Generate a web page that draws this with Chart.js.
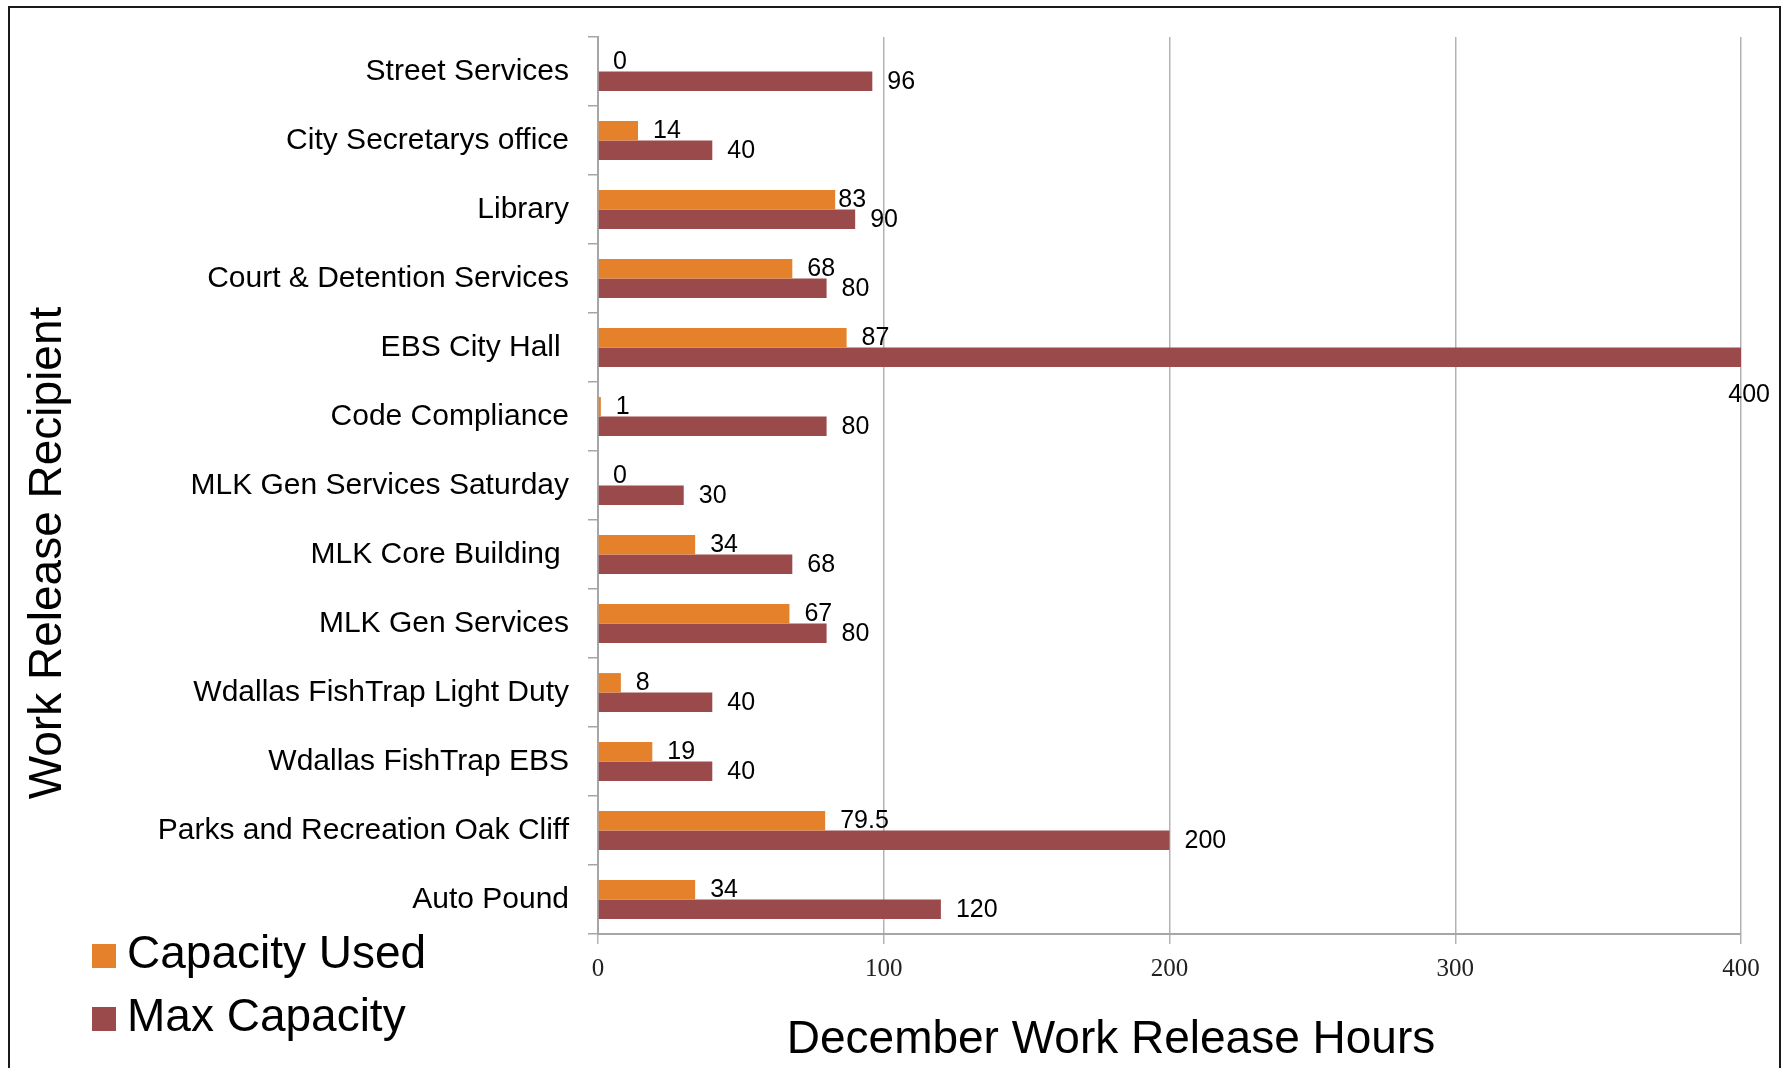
<!DOCTYPE html>
<html>
<head>
<meta charset="utf-8">
<title>December Work Release Hours</title>
<script src="https://cdn.jsdelivr.net/npm/chart.js@4/dist/chart.umd.min.js"></script>
<style>
  html, body { margin: 0; padding: 0; background: #fff; overflow: hidden; }
  #wrap { position: relative; width: 1782px; height: 1068px; }
  #frame {
    position: absolute; left: 8px; top: 6px; width: 1769px; height: 1100px;
    border: 2px solid #1a1a1a; border-bottom: none; pointer-events: none;
  }
</style>
</head>
<body>
<div id="wrap">
  <canvas id="hours_graph" width="1782" height="1068"></canvas>
  <div id="frame"></div>
</div>
<script>
// recipients, top to bottom
let recipients=[
  'Street Services',
  'City Secretarys office',
  'Library',
  'Court & Detention Services',
  'EBS City Hall ',
  'Code Compliance',
  'MLK Gen Services Saturday',
  'MLK Core Building ',
  'MLK Gen Services',
  'Wdallas FishTrap Light Duty',
  'Wdallas FishTrap EBS',
  'Parks and Recreation Oak Cliff',
  'Auto Pound'
];
let capacity_used=[0,14,83,68,87,1,0,34,67,8,19,79.5,34];
let max_capacity=[96,40,90,80,400,80,30,68,80,40,40,200,120];
let hour_ticks=[0,100,200,300,400];

const SANS='"Liberation Sans", Arial, sans-serif';
const SERIF='"Liberation Serif", "Times New Roman", serif';

// numbers at the end of each bar; the used-capacity number backs off
// to the left when it would run into the max-capacity number below it
const barValues={
  id:'barValues',
  afterDatasetsDraw(chart){
    const ctx=chart.ctx;
    ctx.save();
    ctx.font='25px '+SANS;
    ctx.fillStyle='#000';
    ctx.textAlign='left';
    ctx.textBaseline='middle';
    const used=chart.getDatasetMeta(0).data;
    const max=chart.getDatasetMeta(1).data;
    max.forEach((bar,i)=>{
      const txt=String(max_capacity[i]);
      const w=ctx.measureText(txt).width;
      let x=bar.x+15, y=bar.y+1;
      if(x+w>chart.width-12){
        x=chart.width-12-w;
        y=bar.y+38;
      }
      bar.$labelX=x; bar.$labelY=y;
      ctx.fillText(txt,x,y);
    });
    used.forEach((bar,i)=>{
      const txt=String(capacity_used[i]);
      const w=ctx.measureText(txt).width;
      let x=bar.x+15, y=bar.y;
      const below=max[i];
      if(Math.abs(below.$labelY-y)<24 && x+w>below.$labelX-4){
        x=below.$labelX-4-w;
      }
      ctx.fillText(txt,x,y);
    });
    ctx.restore();
  }
};

// axis titles and the legend down the left side
const sideText={
  id:'sideText',
  afterDraw(chart){
    const ctx=chart.ctx;
    ctx.save();
    ctx.fillStyle='#000';
    ctx.font='46px '+SANS;
    ctx.textAlign='center';
    ctx.textBaseline='middle';
    ctx.fillText('December Work Release Hours',1111,1040);

    ctx.translate(48,553);
    ctx.rotate(-Math.PI/2);
    ctx.fillText('Work Release Recipient',0,0);
    ctx.setTransform(1,0,0,1,0,0);

    ctx.font='46px '+SANS;
    ctx.textAlign='left';
    chart.data.datasets.forEach((ds,d)=>{
      const cy=955+d*63;
      ctx.fillStyle=ds.backgroundColor;
      ctx.fillRect(92,cy-11,24,24);
      ctx.fillStyle='#000';
      ctx.fillText(ds.label,127,cy);
    });
    ctx.restore();
  }
};

const graph=document.getElementById('hours_graph').getContext('2d');

new Chart(graph,{
  type:'bar',
  data:{
    labels:recipients,
    datasets:[{
      label:'Capacity Used',
      data:capacity_used,
      backgroundColor:'#E5812B'
    },{
      label:'Max Capacity',
      data:max_capacity,
      backgroundColor:'#9B4A4B'
    }]
  },
  options:{
    indexAxis:'y',
    responsive:false,
    animation:false,
    barPercentage:1,
    categoryPercentage:0.563,
    layout:{padding:{top:34,right:41,bottom:0,left:0}},
    plugins:{
      legend:{display:false},
      tooltip:{enabled:false}
    },
    scales:{
      x:{
        min:0,
        max:400,
        afterFit(scale){ scale.height=134; },
        afterBuildTicks(scale){ scale.ticks=hour_ticks.map(v=>({value:v})); },
        grid:{color:'#b3b3b3',lineWidth:1.5,tickLength:10},
        border:{color:'#a6a6a6',width:2},
        ticks:{
          color:'#222',
          padding:10,
          font:{family:SERIF,size:25}
        }
      },
      y:{
        afterFit(scale){ scale.width=598; },
        grid:{drawOnChartArea:false,color:'#a6a6a6',lineWidth:1.5,tickLength:10,offset:true},
        border:{color:'#a6a6a6',width:2},
        ticks:{
          color:'#000',
          padding:19,
          autoSkip:false,
          font:{family:SANS,size:30}
        }
      }
    }
  },
  plugins:[barValues,sideText]
});
</script>
</body>
</html>
